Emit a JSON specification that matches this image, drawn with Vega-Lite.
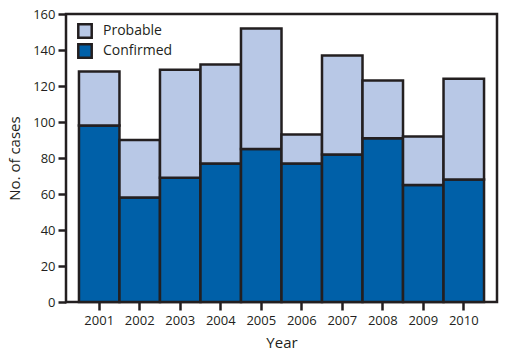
{
  "$schema": "https://vega.github.io/schema/vega-lite/v6.json",
  "width": 431,
  "height": 288,
  "autosize": {"type": "none"},
  "padding": {"left": 66, "top": 14, "right": 20, "bottom": 61},
  "background": "white",
  "data": {
    "values": [
      {"year": "2001", "type": "Confirmed", "cases": 98},
      {"year": "2001", "type": "Probable", "cases": 30},
      {"year": "2002", "type": "Confirmed", "cases": 58},
      {"year": "2002", "type": "Probable", "cases": 32},
      {"year": "2003", "type": "Confirmed", "cases": 69},
      {"year": "2003", "type": "Probable", "cases": 60},
      {"year": "2004", "type": "Confirmed", "cases": 77},
      {"year": "2004", "type": "Probable", "cases": 55},
      {"year": "2005", "type": "Confirmed", "cases": 85},
      {"year": "2005", "type": "Probable", "cases": 67},
      {"year": "2006", "type": "Confirmed", "cases": 77},
      {"year": "2006", "type": "Probable", "cases": 16},
      {"year": "2007", "type": "Confirmed", "cases": 82},
      {"year": "2007", "type": "Probable", "cases": 55},
      {"year": "2008", "type": "Confirmed", "cases": 91},
      {"year": "2008", "type": "Probable", "cases": 32},
      {"year": "2009", "type": "Confirmed", "cases": 65},
      {"year": "2009", "type": "Probable", "cases": 27},
      {"year": "2010", "type": "Confirmed", "cases": 68},
      {"year": "2010", "type": "Probable", "cases": 56}
    ]
  },
  "mark": {"type": "bar", "stroke": "#231f20", "strokeWidth": 2.5},
  "encoding": {
    "x": {
      "field": "year",
      "type": "ordinal",
      "title": "Year",
      "scale": {"paddingInner": 0, "paddingOuter": 0.32},
      "axis": {
        "labelAngle": 0,
        "labelFont": "Open Sans",
        "labelFontSize": 13,
        "labelColor": "#231f20",
        "labelPadding": 4,
        "tickSize": 8,
        "tickWidth": 2.5,
        "tickColor": "#231f20",
        "domain": false,
        "titleFont": "Open Sans",
        "titleFontSize": 15,
        "titleFontWeight": "normal",
        "titleColor": "#231f20",
        "titlePadding": 8
      }
    },
    "y": {
      "field": "cases",
      "type": "quantitative",
      "stack": "zero",
      "title": "No. of cases",
      "scale": {"domain": [0, 160], "nice": false},
      "axis": {
        "values": [0, 20, 40, 60, 80, 100, 120, 140, 160],
        "grid": false,
        "labelFont": "Open Sans",
        "labelFontSize": 13,
        "labelColor": "#231f20",
        "labelPadding": 3,
        "tickSize": 8,
        "tickWidth": 2.5,
        "tickColor": "#231f20",
        "domain": false,
        "titleFont": "Open Sans",
        "titleFontSize": 15,
        "titleFontWeight": "normal",
        "titleColor": "#231f20",
        "titlePadding": 10
      }
    },
    "color": {
      "field": "type",
      "type": "nominal",
      "scale": {"domain": ["Probable", "Confirmed"], "range": ["#b8c8e6", "#0060a8"]},
      "legend": {
        "title": null,
        "orient": "none",
        "legendX": 11,
        "legendY": 9,
        "symbolType": "square",
        "symbolSize": 180,
        "symbolStrokeColor": "#231f20",
        "symbolStrokeWidth": 2.5,
        "labelFont": "Open Sans",
        "labelFontSize": 14,
        "labelColor": "#231f20",
        "labelOffset": 10,
        "rowPadding": -4
      }
    },
    "order": {"field": "type", "sort": "ascending"}
  },
  "config": {
    "view": {"stroke": "#231f20", "strokeWidth": 2.5}
  }
}
